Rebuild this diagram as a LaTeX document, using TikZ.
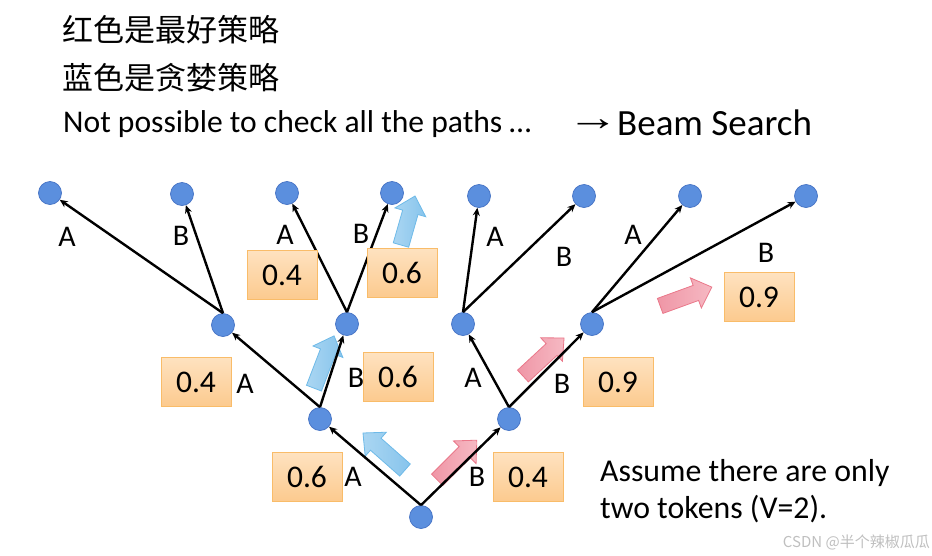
\documentclass[tikz,border=0pt]{standalone}
\usepackage{fontspec}
\setmainfont{Carlito}
\newfontfamily\cjk{Noto Sans CJK SC}
\newfontfamily\arrowfont{Liberation Sans}
\usetikzlibrary{arrows.meta}

\definecolor{nodefill}{RGB}{91,143,222}
\definecolor{nodeline}{RGB}{68,114,196}
\definecolor{boxtop}{RGB}{254,226,192}
\definecolor{boxbot}{RGB}{252,202,142}
\definecolor{boxline}{RGB}{249,188,105}
\definecolor{greedyA}{RGB}{170,214,242}
\definecolor{greedyB}{RGB}{135,196,236}
\definecolor{greedyline}{RGB}{110,186,232}
\definecolor{bestA}{RGB}{239,150,166}
\definecolor{bestB}{RGB}{246,185,195}
\definecolor{bestline}{RGB}{234,120,138}

% block arrow: style, centre x, centre y, angle, length
\newcommand\fatarrow[5]{%
  \begin{scope}[shift={(#2,#3)}, rotate=#4]
    \path[#1] ({-#5/2},-8) -- ({#5/2-17},-8) -- ({#5/2-17},-16) -- ({#5/2},0)
      -- ({#5/2-17},16) -- ({#5/2-17},8) -- ({-#5/2},8) -- cycle;
  \end{scope}}

\begin{document}
\begin{tikzpicture}[x=1pt, y=-1pt,
  state/.style={circle, fill=nodefill, draw=nodeline, line width=0.7pt,
    minimum size=23pt, inner sep=0pt},
  edge/.style={draw, line width=2.4pt, -{Stealth[length=8pt,width=7pt]}},
  tok/.style={font=\fontsize{30}{30}\selectfont, inner sep=0pt},
  prob/.style={draw=boxline, line width=1pt, top color=boxtop, bottom color=boxbot,
    minimum width=70pt, minimum height=49pt, inner sep=0pt,
    font=\fontsize{31.5}{31.5}\selectfont},
  greedy/.style={left color=greedyA, right color=greedyB, draw=greedyline, line width=0.8pt},
  best/.style={left color=bestA, right color=bestB, draw=bestline, line width=0.8pt}]

\path[use as bounding box] (0,0) rectangle (932,555);

% heading lines
\node[anchor=base west, inner sep=0pt, font=\cjk\fontsize{31}{31}\selectfont] (t1) at (62,41) {红色是最好策略};
\node[anchor=base west, inner sep=0pt, font=\cjk\fontsize{31}{31}\selectfont] (t2) at (62,89) {蓝色是贪婪策略};
\node[anchor=base west, inner sep=0pt, font=\fontsize{31.6}{31.6}\selectfont] (t3) at (63,132) {Not possible to check all the paths \dots};
\node[anchor=base west, inner sep=0pt, font=\arrowfont\fontsize{38}{38}\selectfont] (t4a) at (567,130) {\scalebox{1.36}[1]{→}};
\node[anchor=base west, inner sep=0pt, font=\fontsize{37}{37}\selectfont] (t4) at (617,135) {Beam Search};

% block arrows (greedy in blue, best in red)
\fatarrow{greedy}{408}{220.5}{74}{51}
\fatarrow{greedy}{324}{362}{69}{56}
\fatarrow{greedy}{384}{451.5}{138.6}{56}
\fatarrow{best}{457}{460}{45}{56}
\fatarrow{best}{543.5}{357}{42.8}{56}
\fatarrow{best}{686}{296.5}{20}{55}

% tree nodes
\node[state] (r) at (421,517) {};
\node[state] (a) at (320,419) {};
\node[state] (b) at (509,419) {};
\node[state] (aa) at (223,325) {};
\node[state] (ab) at (347,324) {};
\node[state] (ba) at (463,324) {};
\node[state] (bb) at (592,324) {};
\node[state] (aaa) at (50,193) {};
\node[state] (aab) at (182,194) {};
\node[state] (aba) at (287,193) {};
\node[state] (abb) at (392,193) {};
\node[state] (baa) at (479,196) {};
\node[state] (bab) at (584,196) {};
\node[state] (bba) at (690,196) {};
\node[state] (bbb) at (806,196) {};

% branches
\draw[edge] (r.north) -- (a);
\draw[edge] (r.north) -- (b);
\draw[edge] (a.north) -- (aa);
\draw[edge] (a.north) -- (ab);
\draw[edge] (b.north) -- (ba);
\draw[edge] (b.north) -- (bb);
\draw[edge] (aa.north) -- (aaa);
\draw[edge] (aa.north) -- (aab);
\draw[edge] (ab.north) -- (aba);
\draw[edge] (ab.north) -- (abb);
\draw[edge] (ba.north) -- (baa);
\draw[edge] (ba.north) -- (bab);
\draw[edge] (bb.north) -- (bba);
\draw[edge] (bb.north) -- (bbb);

% token labels
\node[tok] (l1) at (353,477) {A};
\node[tok] (l2) at (477,477) {B};
\node[tok] (l3) at (245,384) {A};
\node[tok] (l4) at (356,378) {B};
\node[tok] (l5) at (473,378) {A};
\node[tok] (l6) at (562,384) {B};
\node[tok] (l7) at (67,237) {A};
\node[tok] (l8) at (181,236) {B};
\node[tok] (l9) at (285,235) {A};
\node[tok] (l10) at (361,234) {B};
\node[tok] (l11) at (495,237) {A};
\node[tok] (l12) at (564,257) {B};
\node[tok] (l13) at (633,235) {A};
\node[tok] (l14) at (766,253) {B};

% probabilities
\node[prob] (p1) at (307,477) {0.6};
\node[prob] (p2) at (528,477) {0.4};
\node[prob] (p3) at (196,382) {0.4};
\node[prob] (p4) at (398,377) {0.6};
\node[prob] (p5) at (618,382) {0.9};
\node[prob] (p6) at (282,275) {0.4};
\node[prob] (p7) at (402,273) {0.6};
\node[prob] (p8) at (759,297) {0.9};

% note
\node[anchor=base west, inner sep=0pt, font=\fontsize{31.8}{31.8}\selectfont] (n1) at (600,481) {Assume there are only};
\node[anchor=base west, inner sep=0pt, font=\fontsize{31.8}{31.8}\selectfont] (n2) at (600,518) {two tokens (V=2).};

% credit
\node[anchor=base east, inner sep=0pt, text=black!25, font=\cjk\fontsize{15}{15}\selectfont] (w) at (930,547) {CSDN @半个辣椒瓜瓜};
\end{tikzpicture}
\end{document}
